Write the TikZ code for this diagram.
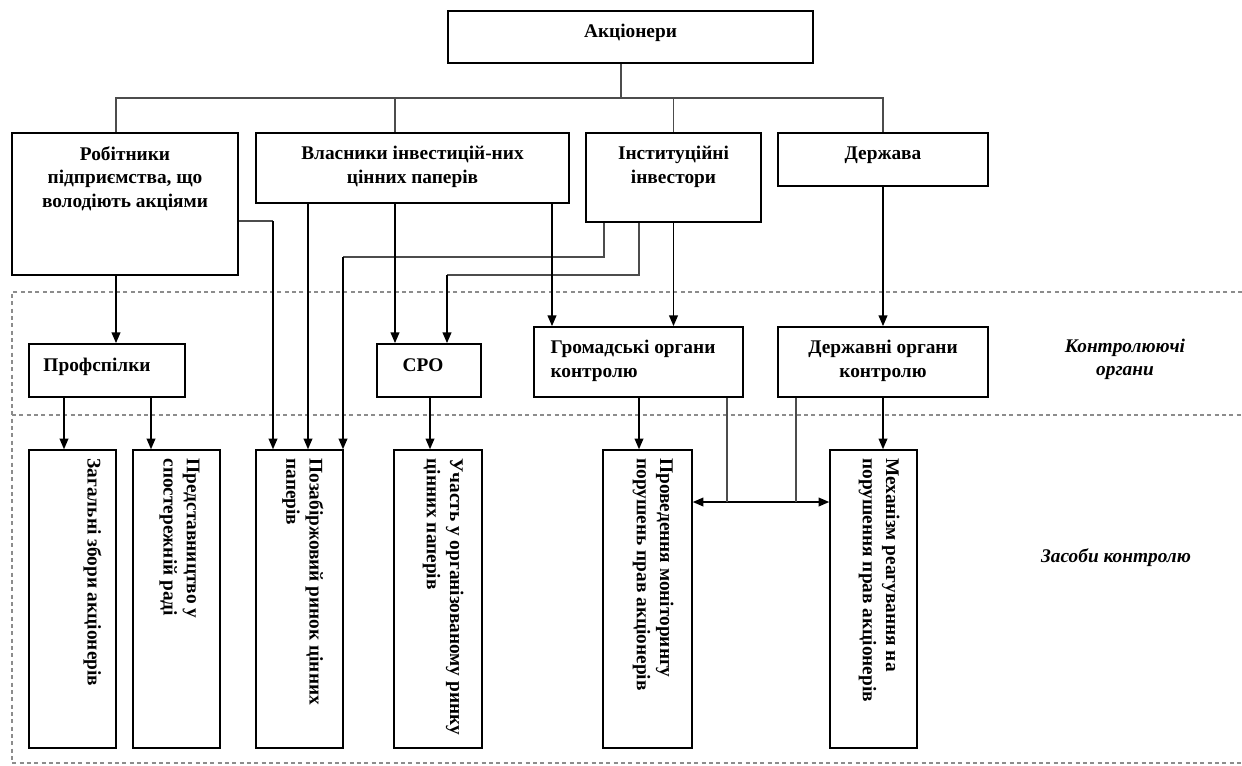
\documentclass[tikz,border=0pt]{standalone}
\usepackage{fontspec}
\setmainfont{Liberation Serif}
\usetikzlibrary{arrows.meta}

\tikzset{
	box/.style={draw, line width=1.3pt, inner sep=0pt},
	vbox/.style={draw, line width=1.1pt, inner sep=0pt, minimum height=223.5pt},
	lbl/.style={inner sep=0pt, font=\bfseries\fontsize{14.5}{17.5}\selectfont, align=center},
	vlbl/.style={inner sep=0pt, font=\bfseries\fontsize{14.5}{17.5}\selectfont, align=left, rotate=-90, anchor=north west},
	note/.style={inner sep=0pt, font=\bfseries\itshape\fontsize{14.5}{17}\selectfont, align=center},
	arr/.style={line width=1.2pt, -{Triangle[length=8pt,width=6.5pt]}},
	dbl/.style={line width=1.2pt, {Triangle[length=8pt,width=6.5pt]}-{Triangle[length=8pt,width=6.5pt]}},
	link/.style={line width=0.8pt, draw=black!70},
	zone/.style={draw=black!45, line width=1.2pt, dash pattern=on 3pt off 2.5pt}}
\tikzset{every picture/.style={line width=0.75pt}}

\begin{document}
\begin{tikzpicture}[x=0.75pt,y=0.75pt,yscale=-1,xscale=1]
	\useasboundingbox (0,0) rectangle (1242,765);

	%Dashed zones
	\draw[zone] (1242,292) -- (12,292) -- (12,763) -- (1242,763);
	\draw[zone] (12,415) -- (1242,415);

	%Top level
	\node[box, minimum width=273.75pt, minimum height=39pt] (akc) at (630.5,37) {};
	\node[box, minimum width=169.5pt, minimum height=106.5pt] (rob) at (125,204) {};
	\node[box, minimum width=234.75pt, minimum height=52.5pt] (vlas) at (412.5,168) {};
	\node[box, minimum width=131.25pt, minimum height=66.75pt] (inst) at (673.5,177.5) {};
	\node[box, minimum width=157.5pt, minimum height=39.75pt] (derzh) at (883,159.5) {};

	%Control bodies
	\node[box, minimum width=117pt, minimum height=39.75pt] (prof) at (107,370.5) {};
	\node[box, minimum width=78pt, minimum height=39.75pt] (sro) at (429,370.5) {};
	\node[box, minimum width=156.75pt, minimum height=52.5pt] (grom) at (638.5,362) {};
	\node[box, minimum width=157.5pt, minimum height=52.5pt] (dorg) at (883,362) {};

	%Means of control
	\node[vbox, minimum width=65.25pt] (zag) at (72.5,599) {};
	\node[vbox, minimum width=65.25pt] (pred) at (176.5,599) {};
	\node[vbox, minimum width=65.25pt] (poza) at (299.5,599) {};
	\node[vbox, minimum width=66pt] (uch) at (438,599) {};
	\node[vbox, minimum width=66.75pt] (prov) at (647.5,599) {};
	\node[vbox, minimum width=65.25pt] (mech) at (873.5,599) {};

	% Text Nodes
	\node[lbl, anchor=north] (akct) at (630.5,24) {Акціонери};
	\node[lbl, anchor=north] (robt) at (125,146) {Робітники\\підприємства, що\\володіють акціями};
	\node[lbl, anchor=north] (vlast) at (412.5,146) {Власники інвестицій-них\\цінних паперів};
	\node[lbl, anchor=north] (instt) at (673.5,146) {Інституційні\\інвестори};
	\node[lbl, anchor=north] (derzht) at (883,146) {Держава};
	\node[lbl, anchor=base] (proft) at (97,371) {Профспілки};
	\node[lbl, anchor=base] (srot) at (423,371) {СРО};
	\node[lbl, anchor=north west, align=left] (gromt) at (550,340) {Громадські органи\\контролю};
	\node[lbl, anchor=north] (dorgt) at (883,340) {Державні органи\\контролю};
	\node[note, anchor=north] (kontr) at (1125,339) {Контролюючі\\органи};
	\node[note] (zasob) at (1116,558) {Засоби контролю};
	\node[vlbl] (zagt) at (102,458) {Загальні збори акціонерів};
	\node[vlbl] (predt) at (200,458) {Представництво у\\спостережній раді};
	\node[vlbl] (pozat) at (324,458) {Позабіржовий ринок цінних\\паперів};
	\node[vlbl] (ucht) at (464,458) {Участь у організованому ринку\\цінних паперів};
	\node[vlbl] (provt) at (674,458) {Проведення моніторингу\\порушень прав акціонерів};
	\node[vlbl] (mecht) at (900,458) {Механізм реагування на\\порушення прав акціонерів};

	%Bus from shareholders
	\coordinate (bus) at (621,98);
	\draw[link] (akc.south -| bus) -- (bus);
	\draw[link] (rob.north -| 116,0) |- (bus) -| (derzh.north);
	\draw[link] (bus -| 395,0) -- (vlas.north -| 395,0);
	\draw[link] (bus -| inst.north) -- (inst.north);

	%Bends
	\coordinate (k0) at (273,221);
	\coordinate (k1) at (343,257);
	\coordinate (k2) at (447,275);
	\draw[link] (rob.east |- k0) -- (k0);
	\draw[link] (inst.south -| 604,0) |- (k1);
	\draw[link] (inst.south -| 639,0) |- (k2);

	%Arrows to control bodies and means
	\draw[arr] (rob.south -| 116,0) -- (prof.north -| 116,0);
	\draw[arr] (k0) -- (poza.north -| k0);
	\draw[arr] (vlas.south -| 308,0) -- (poza.north -| 308,0);
	\draw[arr] (k1) -- (poza.north -| k1);
	\draw[arr] (vlas.south -| 395,0) -- (sro.north -| 395,0);
	\draw[arr] (k2) -- (sro.north -| k2);
	\draw[arr] (vlas.south -| 552,0) -- (grom.north -| 552,0);
	\draw[arr] (inst.south) -- (grom.north -| inst.south);
	\draw[arr] (derzh.south) -- (dorg.north);
	\draw[arr] (prof.south -| 64,0) -- (zag.north -| 64,0);
	\draw[arr] (prof.south -| 151,0) -- (pred.north -| 151,0);
	\draw[arr] (sro.south -| 430,0) -- (uch.north -| 430,0);
	\draw[arr] (grom.south -| 639,0) -- (prov.north -| 639,0);
	\draw[arr] (dorg.south) -- (mech.north -| dorg.south);

	%Link between monitoring and reaction
	\coordinate (m1) at (727,502);
	\coordinate (m2) at (796,502);
	\draw[dbl] (prov.east |- m1) -- (mech.west |- m1);
	\draw[link] (grom.south -| m1) -- (m1);
	\draw[link] (dorg.south -| m2) -- (m2);

\end{tikzpicture}
\end{document}
